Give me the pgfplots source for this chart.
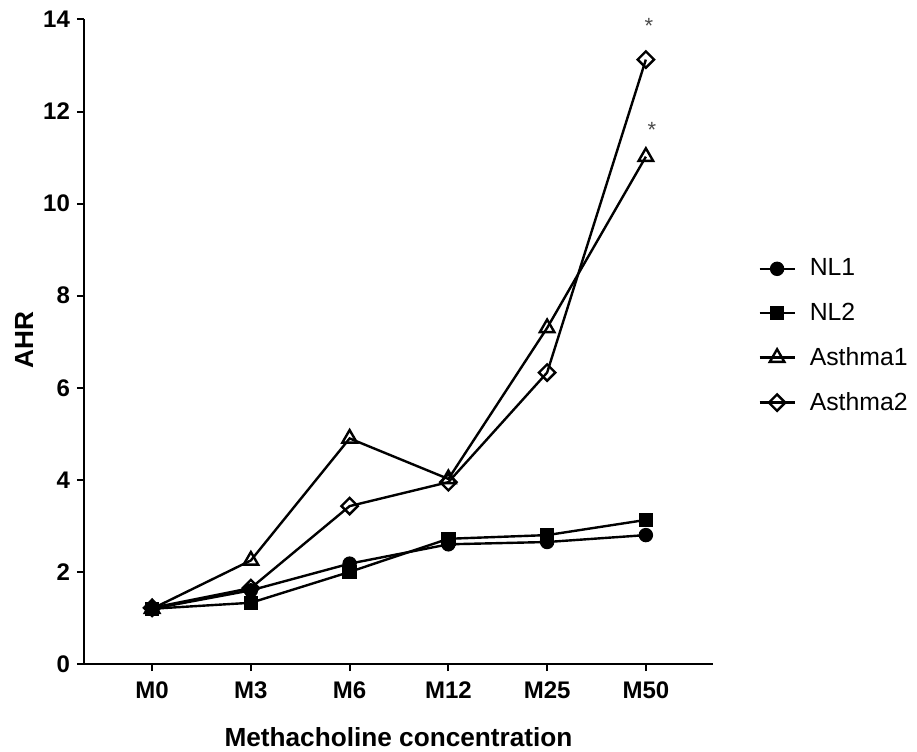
\documentclass[border=0pt]{standalone}
\usepackage{pgfplots}
\pgfplotsset{compat=1.18}
\usepackage{fontspec}
\setmainfont{Liberation Sans}

\begin{document}
\begin{tikzpicture}
% picture frame = 917 x 751 px of the reference, 1 px = 0.5pt
\path[use as bounding box] (0pt,0pt) rectangle (458.5pt,375.5pt);
\begin{axis}[
    at={(42pt,43.5pt)}, anchor=south west,
    scale only axis,
    width=314.5pt, height=322.25pt,
    axis lines*=left,
    axis line style={line width=1pt},
    xmin=-0.69, xmax=5.68,
    ymin=0, ymax=14,
    xtick={0,1,2,3,4,5},
    xticklabels={M0,M3,M6,M12,M25,M50},
    ytick={0,2,4,6,8,10,12,14},
    tick align=outside,
    major tick length=3.5pt,
    tick style={line width=1pt, black},
    /pgf/number format/assume math mode=true,
    ticklabel style={font=\fontsize{12}{14}\selectfont\bfseries},
    xticklabel style={yshift=-2pt},
    xlabel={Methacholine concentration},
    ylabel={AHR},
    label style={font=\fontsize{13.1}{15}\selectfont\bfseries},
    xlabel style={at={(axis description cs:0.5,-0.113)}, anchor=center},
    ylabel style={at={(axis description cs:-0.0954,0.503)}, anchor=center},
    every axis plot/.append style={line width=1.2pt, black},
    legend style={at={(1.0715,0.509)}, anchor=west, draw=none,
        font=\fontsize{12.4}{14}\selectfont, row sep=8pt,
        inner sep=0pt,
        /tikz/every odd column/.append style={column sep=5pt}},
    legend cell align=left,
    legend image code/.code={
        \draw[mark repeat=2,mark phase=2] plot coordinates {(0pt,0pt) (8.75pt,0pt) (17.5pt,0pt)};},
    clip=false,
]

% NL1
\addplot[mark=*, mark size=3pt, mark options={solid, fill=black}] coordinates {
    (0,1.20) (1,1.60) (2,2.18) (3,2.60) (4,2.65) (5,2.80)};
\addlegendentry{NL1}

% NL2
\addplot[mark=square*, mark size=3pt, mark options={solid, fill=black}] coordinates {
    (0,1.20) (1,1.33) (2,2.00) (3,2.72) (4,2.80) (5,3.13)};
\addlegendentry{NL2}

% Asthma1
\addplot[mark=triangle, mark size=4.2pt, mark options={solid, fill=white}] coordinates {
    (0,1.20) (1,2.25) (2,4.90) (3,4.02) (4,7.30) (5,11.02)};
\addlegendentry{Asthma1}

% Asthma2
\addplot[mark=square, mark size=2.9pt, mark options={solid, fill=white, rotate=45}] coordinates {
    (0,1.22) (1,1.65) (2,3.43) (3,3.95) (4,6.33) (5,13.13)};
\addlegendentry{Asthma2}

\node[gray!60!black, font=\fontsize{11}{12}\selectfont] at (axis cs:5.03,13.85) {*};
\node[gray!60!black, font=\fontsize{11}{12}\selectfont] at (axis cs:5.06,11.6) {*};
\end{axis}
\end{tikzpicture}
\end{document}
